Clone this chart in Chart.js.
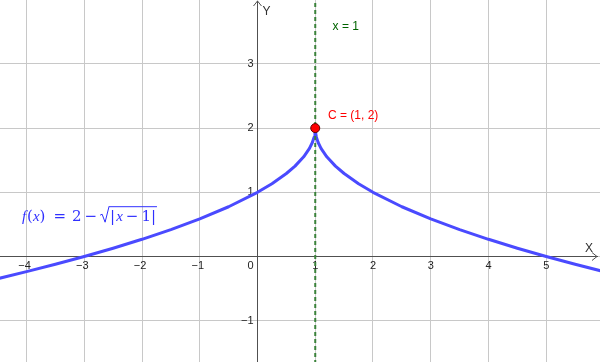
<!DOCTYPE html>
<html>
<head>
<meta charset="utf-8">
<script src="https://cdn.jsdelivr.net/npm/chart.js@4/dist/chart.umd.min.js"></script>
<style>
html,body{margin:0;padding:0;background:#fff;}
#wrap{width:600px;height:362px;position:relative;}
</style>
</head>
<body>
<div id="wrap"><canvas id="c" width="600" height="362"></canvas></div>
<script>
// Curve f(x) = 2 - sqrt(|x-1|)
const curveX = [-4.5,-4,-3.5,-3,-2.5,-2,-1.5,-1,-0.5,0,0.25,0.5,0.65,0.8,0.9,0.95,0.98,0.995,1,1.005,1.02,1.05,1.1,1.2,1.35,1.5,1.75,2,2.5,3,3.5,4,4.5,5,5.5,6];
const curveY = [-0.345,-0.236,-0.121,0,0.129,0.268,0.419,0.586,0.775,1,1.134,1.293,1.408,1.553,1.684,1.776,1.859,1.929,2,1.929,1.859,1.776,1.684,1.553,1.408,1.293,1.134,1,0.775,0.586,0.419,0.268,0.129,0,-0.121,-0.236];
// Vertical line x = 1
const vLineX = 1;
const vLineYRange = [-2, 4.5];
// Point C
const pointC = {x: 1, y: 2};
// Tick labels
const xTicks = [-4,-3,-2,-1,0,1,2,3,4,5];
const yTicks = [-1,1,2,3];
const xRange = [-4.459, 5.931];
const yRange = [-1.643, 3.995];

const curveData = curveX.map((x,i)=>({x:x,y:curveY[i]}));
const lineData = vLineYRange.map(y=>({x:vLineX,y:y}));

const FONT = '11px "Liberation Sans", Arial, sans-serif';

const bgPlugin = {
  id:'bg',
  beforeDatasetsDraw(chart){
    const ctx = chart.ctx, xs = chart.scales.x, ys = chart.scales.y;
    const W = chart.width, H = chart.height;
    ctx.save();
    ctx.fillStyle='#fff'; ctx.fillRect(0,0,W,H);
    // grid
    ctx.strokeStyle='#c8c8c8'; ctx.lineWidth=1;
    for(let v=Math.ceil(xRange[0]); v<=Math.floor(xRange[1]); v++){
      const p=Math.floor(xs.getPixelForValue(v))+0.5;
      ctx.beginPath(); ctx.moveTo(p,0); ctx.lineTo(p,H); ctx.stroke();
    }
    for(let v=Math.ceil(yRange[0]); v<=Math.floor(yRange[1]); v++){
      const p=Math.floor(ys.getPixelForValue(v))+0.5;
      ctx.beginPath(); ctx.moveTo(0,p); ctx.lineTo(W,p); ctx.stroke();
    }
    // axes
    const x0=Math.floor(xs.getPixelForValue(0))+0.5;
    const y0=Math.floor(ys.getPixelForValue(0))+0.5;
    ctx.strokeStyle='#505050'; ctx.lineWidth=1;
    ctx.beginPath(); ctx.moveTo(0,y0); ctx.lineTo(W-2,y0); ctx.stroke();
    ctx.beginPath(); ctx.moveTo(x0,H); ctx.lineTo(x0,1); ctx.stroke();
    // arrows
    ctx.beginPath(); ctx.moveTo(W-8,y0-4); ctx.lineTo(W-3,y0); ctx.lineTo(W-8,y0+4); ctx.stroke();
    ctx.beginPath(); ctx.moveTo(x0-4,6); ctx.lineTo(x0,1); ctx.lineTo(x0+4,6); ctx.stroke();
    // axis names
    ctx.fillStyle='#303030'; ctx.font='12px "Liberation Sans", Arial, sans-serif';
    ctx.textAlign='left'; ctx.textBaseline='middle';
    ctx.fillText('X', W-15, y0-8);
    ctx.fillText('Y', x0+5, 12);
    // tick labels
    ctx.font=FONT; ctx.fillStyle='#222';
    ctx.textAlign='center'; ctx.textBaseline='middle';
    xTicks.forEach(v=>{
      const t = (v<0?'\u2212':'')+Math.abs(v);
      let px = xs.getPixelForValue(v);
      if(v===0){ ctx.textAlign='right'; ctx.fillText(t, x0-4, y0+9); ctx.textAlign='center'; }
      else ctx.fillText(t, px-(v<0?2:0), y0+9);
    });
    ctx.textAlign='right';
    yTicks.forEach(v=>{
      const t = (v<0?'\u2212':'')+Math.abs(v);
      ctx.fillText(t, x0-4, ys.getPixelForValue(v));
    });
    ctx.restore();
  },
  afterDatasetsDraw(chart){
    const ctx = chart.ctx, xs = chart.scales.x, ys = chart.scales.y;
    ctx.save();
    ctx.textBaseline='middle'; ctx.textAlign='left';
    ctx.font='12px "Liberation Sans", Arial, sans-serif';
    // x = 1 label
    ctx.fillStyle='#006400';
    ctx.fillText('x = 1', xs.getPixelForValue(1.3), ys.getPixelForValue(3.58));
    // C label
    ctx.fillStyle='#ff0000';
    ctx.fillText('C = (1, 2)', xs.getPixelForValue(1.22), ys.getPixelForValue(2.2));
    // function label
    ctx.fillStyle='#3030ff'; ctx.strokeStyle='#3030ff';
    let x = xs.getPixelForValue(-4.08);
    const base = ys.getPixelForValue(0.55);
    ctx.textBaseline='alphabetic';
    const itf='italic 15px "Liberation Serif", serif';
    const rm='15px "DejaVu Serif", "Liberation Serif", serif';
    const piece=(t,f,gap)=>{ctx.font=f; ctx.fillText(t,x,base); x+=ctx.measureText(t).width+(gap||0);};
    piece('f',itf,1);
    piece('(',rm); piece('x',itf); piece(')',rm,8);
    piece('=',rm,6); piece('2',rm,3); piece('\u2212',rm,3);
    // radical sign
    ctx.lineWidth=1;
    const rx=x;
    ctx.beginPath();
    ctx.moveTo(rx, base-6); ctx.lineTo(rx+2, base-7); ctx.lineTo(rx+5, base+1); ctx.lineTo(rx+9, base-15); ctx.stroke();
    x = rx+10;
    const startBar = rx+9;
    piece('|',rm,1); piece('x',itf,3); piece('\u2212',rm,3); piece('1',rm,0); piece('|',rm,0);
    ctx.beginPath(); ctx.moveTo(startBar, base-15+0.5); ctx.lineTo(x+1, base-15+0.5); ctx.stroke();
    ctx.restore();
  }
};

new Chart(document.getElementById('c'), {
  type:'scatter',
  data:{
    datasets:[
      {label:'C', data:[pointC], pointRadius:4.5, pointBackgroundColor:'#ff0000', pointBorderColor:'#600000', pointBorderWidth:1, showLine:false, order:0},
      {label:'x=1', data:lineData, showLine:true, borderColor:'#3a823a', borderWidth:2, borderDash:[4,3], pointRadius:0, order:1},
      {label:'f', data:curveData, showLine:true, borderColor:'#4a4aff', borderWidth:3, pointRadius:0, tension:0, borderJoinStyle:'round', borderCapStyle:'round', order:2}
    ]
  },
  options:{
    responsive:false, animation:false,
    layout:{padding:0, autoPadding:false},
    plugins:{legend:{display:false}, tooltip:{enabled:false}},
    scales:{
      x:{type:'linear', min:xRange[0], max:xRange[1], display:false},
      y:{type:'linear', min:yRange[0], max:yRange[1], display:false}
    }
  },
  plugins:[bgPlugin]
});
</script>
</body>
</html>
